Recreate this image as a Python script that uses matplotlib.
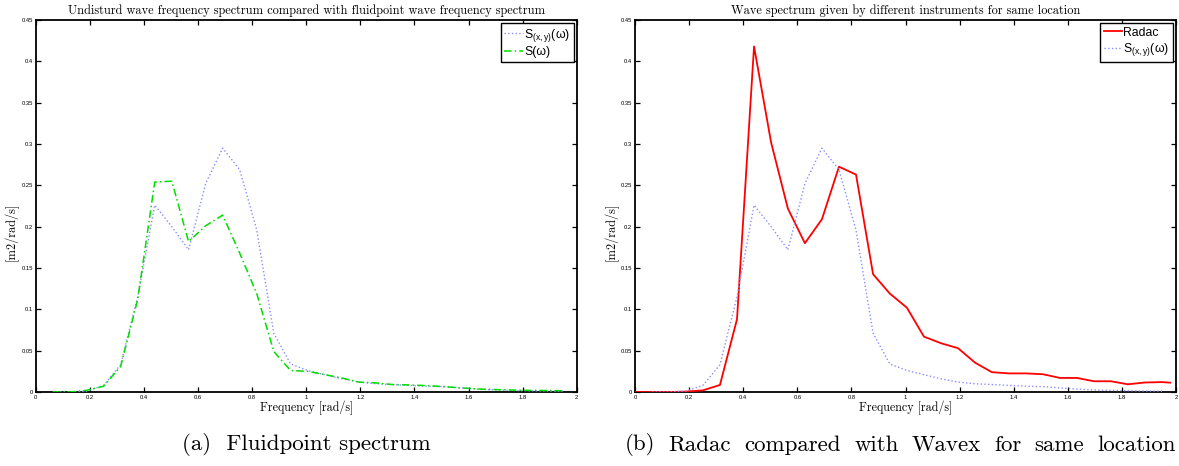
import matplotlib
matplotlib.use("Agg")
import matplotlib.pyplot as plt
from matplotlib.ticker import FormatStrFormatter, MultipleLocator

# frequency grid [rad/s]
freq_fp = [0.063, 0.126, 0.188, 0.251, 0.314, 0.377, 0.440, 0.503, 0.565, 0.628,
           0.691, 0.754, 0.817, 0.880, 0.942, 1.005, 1.068, 1.131, 1.194, 1.257,
           1.319, 1.382, 1.445, 1.508, 1.571, 1.634, 1.696, 1.759, 1.822, 1.885,
           1.948]
freq_radac = [0.0] + freq_fp + [1.978]

# S_(x,y)(w) - undisturbed spectrum (blue dotted, both panels)
s_xy = [0.0, 0.0, 0.001, 0.008, 0.033, 0.115, 0.226, 0.200, 0.172, 0.252,
        0.295, 0.269, 0.196, 0.071, 0.034, 0.026, 0.021, 0.016, 0.012, 0.010,
        0.009, 0.008, 0.007, 0.0065, 0.005, 0.0035, 0.0025, 0.002, 0.0015, 0.0012,
        0.001]

# S(w) - fluidpoint spectrum (green dash-dot)
s_fp = [0.0, 0.0, 0.002, 0.007, 0.031, 0.112, 0.254, 0.255, 0.182, 0.201,
        0.214, 0.168, 0.119, 0.049, 0.026, 0.025, 0.021, 0.017, 0.012, 0.011,
        0.009, 0.0085, 0.0077, 0.0065, 0.005, 0.0036, 0.003, 0.0024, 0.002, 0.0018,
        0.0015]

# Radac spectrum (red)
s_radac = [0.0, 0.0, 0.0, 0.0005, 0.002, 0.0085, 0.088, 0.418, 0.302, 0.222,
           0.180, 0.209, 0.2725, 0.263, 0.1425, 0.119, 0.102, 0.067, 0.059, 0.053,
           0.0355, 0.024, 0.0225, 0.0225, 0.0215, 0.017, 0.017, 0.013, 0.013, 0.0093,
           0.0115, 0.012, 0.0113]

titles = ["Undisturd wave frequency spectrum compared with fluidpoint wave frequency spectrum",
          "Wave spectrum given by different instruments for same location"]
caption_a = "(a)  Fluidpoint spectrum"
caption_b = "(b) Radac compared with Wavex for same location"

plt.rcParams["mathtext.fontset"] = "custom"
plt.rcParams["mathtext.rm"] = "Liberation Sans"
plt.rcParams["mathtext.sf"] = "Liberation Sans"

serif = ["cmr10", "DejaVu Serif"]
sans = ["Liberation Sans", "DejaVu Sans"]

lbl_xy = r"S$_\mathrm{(x,y)}$(ω)"
blue = "#8c8cff"
green = "#00dd00"


def justified(fig, text, x0, x1, y, **kw):
    # lay the words out between x0 and x1 (pixels), like a justified LaTeX line
    r = fig.canvas.get_renderer()
    words = text.split(" ")
    texts = [fig.text(0, y, w, ha="left", va="center", **kw) for w in words]
    widths = [t.get_window_extent(r).width for t in texts]
    gap = (x1 - x0 - sum(widths)) / (len(words) - 1)
    x = x0
    for t, w in zip(texts, widths):
        t.set_x(x / fig.bbox.width)
        x += w + gap


fig = plt.figure(figsize=(11.79, 4.66), dpi=100)
ax1 = fig.add_axes([0.0303, 0.1588, 0.4589, 0.7983])
ax2 = fig.add_axes([0.5386, 0.1588, 0.4589, 0.7983])

# lines drawn above the spines, as in the matlab original
ax1.plot(freq_fp, s_xy, linestyle=":", color=blue, lw=1.0, label=lbl_xy, zorder=3)
ax1.plot(freq_fp, s_fp, linestyle=(0, (5, 2, 1, 2)), color=green, lw=1.1,
         label="S(ω)", zorder=3)

ax2.plot(freq_radac, s_radac, "-", color="#ff0000", lw=1.3, label="Radac", zorder=3)
ax2.plot(freq_fp, s_xy, linestyle=":", color=blue, lw=1.0, label=lbl_xy, zorder=3)

for ax, title in zip([ax1, ax2], titles):
    ax.set_xlim(0, 2)
    ax.set_ylim(0, 0.45)
    ax.xaxis.set_major_locator(MultipleLocator(0.2))
    ax.yaxis.set_major_locator(MultipleLocator(0.05))
    ax.xaxis.set_major_formatter(FormatStrFormatter("%g"))
    ax.yaxis.set_major_formatter(FormatStrFormatter("%g"))
    ax.tick_params(direction="in", length=3.5, width=0.9, top=True, right=True,
                   labelsize=4.2, pad=2)
    for lab in ax.get_xticklabels() + ax.get_yticklabels():
        lab.set_family(sans)
    for sp in ax.spines.values():
        sp.set_linewidth(1.3)
    ax.set_title(title, family=serif, fontsize=8.9, pad=4)
    ax.set_xlabel("Frequency [rad/s]", family=serif, fontsize=8.7, labelpad=1)
    ax.set_ylabel("[m2/rad/s]", family=serif, fontsize=8.9)
    ax.yaxis.set_label_coords(-0.031, 0.43)
    leg = ax.legend(loc="upper right", prop={"family": sans, "size": 8.8},
                    handlelength=1.5, handletextpad=0.1, borderaxespad=0.25,
                    borderpad=0.3, labelspacing=0.2, fancybox=False,
                    framealpha=1)
    leg.get_frame().set_edgecolor("black")
    leg.get_frame().set_linewidth(1.0)
    leg.set_zorder(5)

cap_y = 1 - 445 / 466
bb = ax1.get_position()
fig.text(bb.x0 + bb.width / 2, cap_y, caption_a, family=serif,
         fontsize=16.5, ha="center", va="center")
justified(fig, caption_b, 625, 1176, cap_y, family=serif, fontsize=16.5)

fig.savefig("out.png", dpi=100)
